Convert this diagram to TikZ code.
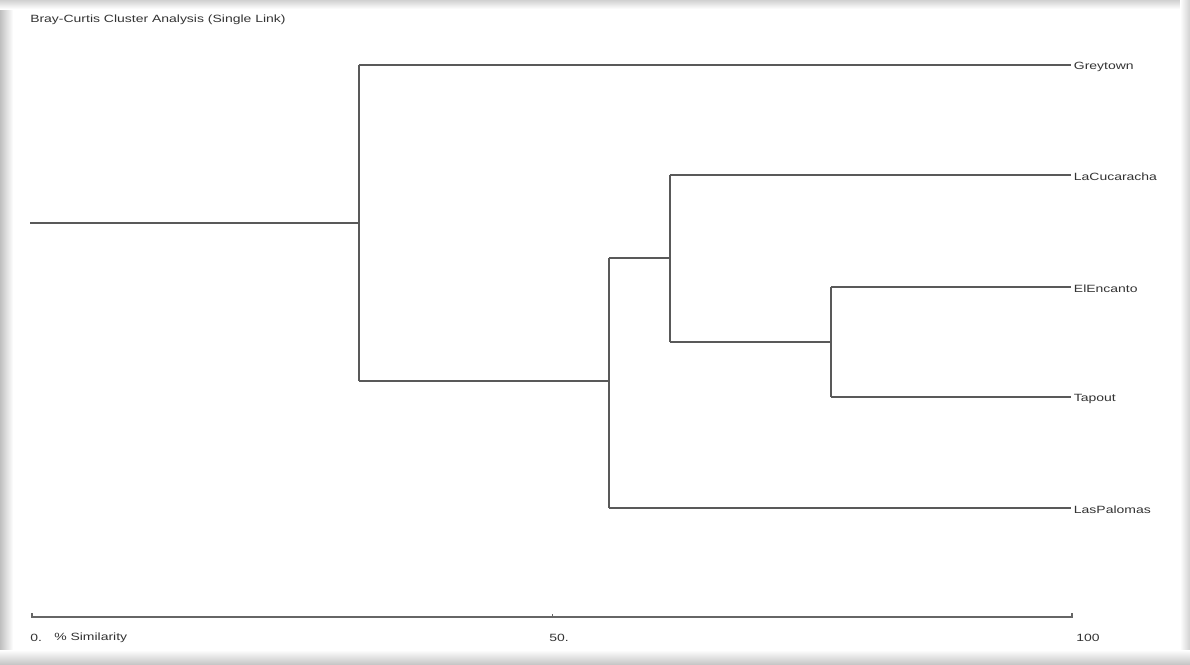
\documentclass[tikz,border=0pt]{standalone}
\usepackage{fontspec}
\setmainfont{Liberation Sans}
\begin{document}
\begin{tikzpicture}[x=1pt,y=-1pt,
  branch/.style={draw=black!65,line width=1.3pt},
  axisline/.style={draw=black!60,line width=1.2pt},
  leaf/.style={anchor=west,inner xsep=2pt,inner ysep=0pt,font=\fontsize{10.5}{12}\selectfont,xscale=1.33,text=black!80},
  ticklbl/.style={anchor=west,inner sep=0pt,font=\fontsize{10.5}{12}\selectfont,xscale=1.33,text=black!80}]
\useasboundingbox (0,0) rectangle (1190,664);
% screenshot frame
\fill[white] (0,0) rectangle (1190,664);
\shade[left color=black!25,right color=white] (0,0) rectangle (13,664);
\shade[top color=black!18,bottom color=white] (0,0) rectangle (1190,9);
\shade[left color=white,right color=black!18] (1180,0) rectangle (1190,664);
\shade[top color=white,bottom color=black!22] (0,650) rectangle (1190,664);
\fill[white] (13,9) rectangle (1180,650);
% title
\node[ticklbl] (title) at (30,20) {Bray-Curtis Cluster Analysis (Single Link)};
% leaves
\node[leaf] (g) at (1071,67) {Greytown};
\node[leaf] (lc) at (1071,177) {LaCucaracha};
\node[leaf] (ee) at (1071,289) {ElEncanto};
\node[leaf] (tp) at (1071,399) {Tapout};
\node[leaf] (lp) at (1071,510) {LasPalomas};
% junctions
\coordinate (root) at (30,223);
\coordinate (j1) at (359,223);
\coordinate (j2) at (609,381);
\coordinate (j3) at (670,258);
\coordinate (j4) at (831,342);
% branches
\draw[branch] (root) -- (j1);
\draw[branch] (j1 |- 0,65) -- (j1 |- j2);
\draw[branch] (j1 |- 0,65) -- (g.west |- 0,65);
\draw[branch] (j1 |- j2) -- (j2);
\draw[branch] (j2 |- j3) -- (j2 |- 0,508);
\draw[branch] (j2 |- 0,508) -- (lp.west |- 0,508);
\draw[branch] (j2 |- j3) -- (j3);
\draw[branch] (j3 |- 0,175) -- (j3 |- j4);
\draw[branch] (j3 |- 0,175) -- (lc.west |- 0,175);
\draw[branch] (j3 |- j4) -- (j4);
\draw[branch] (j4 |- 0,287) -- (j4 |- 0,397);
\draw[branch] (j4 |- 0,287) -- (ee.west |- 0,287);
\draw[branch] (j4 |- 0,397) -- (tp.west |- 0,397);
% axis
\coordinate (a0) at (32,617);
\coordinate (a50) at (552,617);
\coordinate (a100) at (1072,617);
\draw[axisline] ([yshift=4]a0) -- (a0) -- (a100) -- ([yshift=4]a100);
\draw[axisline,line width=0.8pt] (a50) -- ([yshift=3]a50);
\node[ticklbl] (l0) at (30,638) {0.};
\node[ticklbl] (lsim) at (54,638) {\% Similarity};
\node[ticklbl] (l50) at (549,638) {50.};
\node[ticklbl] (l100) at (1076,638) {100};
\end{tikzpicture}
\end{document}
